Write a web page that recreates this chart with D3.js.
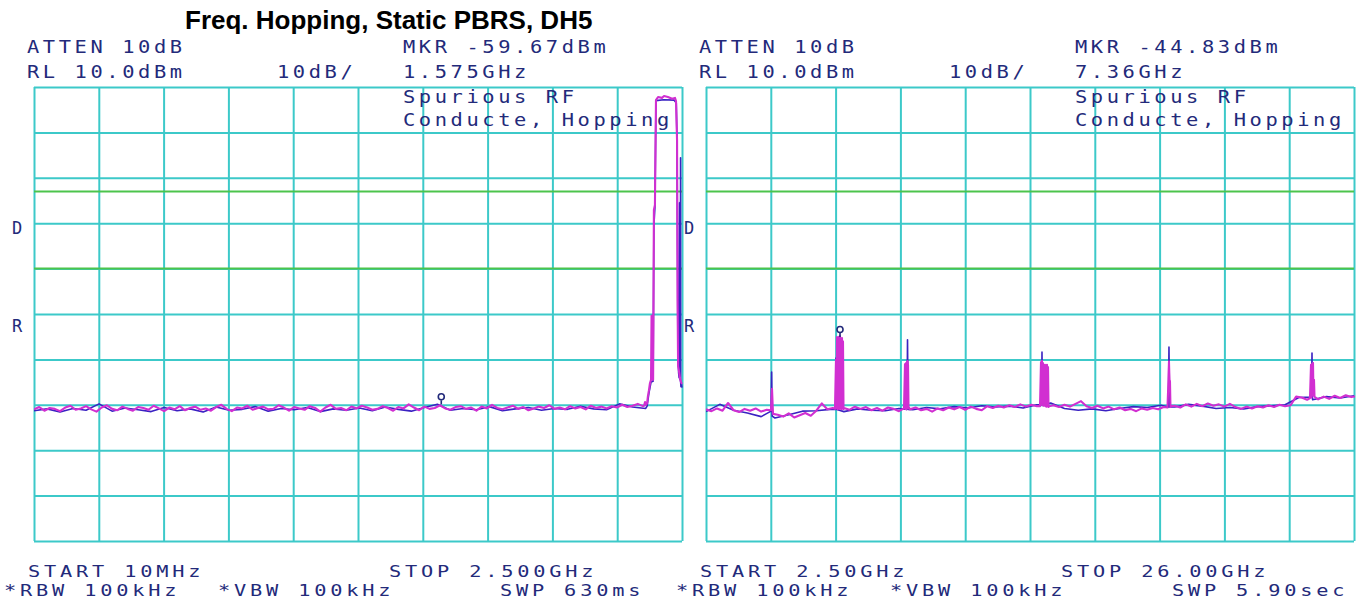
<!DOCTYPE html>
<html>
<head>
<meta charset="utf-8">
<script src="https://cdn.jsdelivr.net/npm/d3@7"></script>
<style>
  html, body { margin: 0; padding: 0; background: #ffffff; }
  svg { display: block; }
  .sa-text { font-family: "DejaVu Sans Mono", monospace; font-size: 17px; fill: #232a7a; letter-spacing: 3px; }
  .sa-foot { font-size: 16px; }
  .title { font-family: "Liberation Sans", Arial, sans-serif; font-weight: bold; font-size: 26px; fill: #000; }
</style>
</head>
<body>
<svg id="chart" width="1360" height="600"></svg>
<script>
// ---- Analyzer settings ----
const title = "Freq. Hopping, Static PBRS, DH5";
const refLevelDbm = 10;
const dbPerDiv = 10;
const displayLinesDbm = [-13, -30];

// ---- Sweep 1: 10 MHz – 2.5 GHz ----
const leftSpanGHz = [0.01, 2.5];
const leftFloorStart = 0.01, leftFloorStep = 0.02;
const leftFloorDbm = [
  -61.0,-60.5,-61.3,-60.7,-60.9,-61.4,-60.6,-60.2,-61.1,-60.8,
  -60.3,-61.0,-61.5,-60.6,-60.1,-60.9,-61.2,-60.4,-60.9,-61.3,
  -60.5,-60.7,-61.1,-60.2,-60.8,-61.4,-60.6,-61.0,-60.3,-61.2,
  -60.7,-60.4,-61.1,-60.8,-61.3,-60.5,-60.0,-60.9,-61.4,-60.6,
  -60.8,-60.2,-61.1,-60.7,-60.4,-61.0,-60.9,-60.1,-60.6,-61.3,
  -60.5,-60.8,-61.1,-60.3,-60.7,-61.5,-60.6,-60.0,-60.9,-60.7,
  -61.2,-60.4,-60.8,-60.2,-60.6,-61.1,-60.9,-60.3,-60.7,-61.3,
  -60.5,-60.8,-59.9,-60.6,-61.2,-60.4,-60.9,-60.7,-60.1,-60.8,
  -61.1,-60.5,-60.3,-60.9,-60.6,-61.3,-60.4,-60.8,-60.0,-60.7,
  -61.0,-60.6,-60.2,-60.9,-60.5,-61.2,-60.8,-60.4,-60.7,-60.1,
  -60.9,-60.6,-61.0,-60.3,-60.8,-60.5,-61.0,-60.2,-60.7,-60.4,
  -60.8,-60.3,-60.6,-60.0,-60.5,-60.2,-59.8,-60.3
];
// 2.4 GHz hopping band (max hold)
const leftBandFreq = [2.354,2.358,2.362,2.366,2.369,2.373,2.377,2.381,2.383,2.387,2.389,2.392,2.396,2.400,2.408,2.423,2.431,2.446,2.462,2.473,2.477,2.481,2.483,2.485,2.489,2.492,2.496,2.5];
const leftBandDbm  = [-60.2,-59.4,-60.0,-59.6,-58.1,-56.8,-55.2,-54.5,-40.4,-40.4,-54.5,-17.1,-16.0,7.1,7.8,7.6,8.0,7.8,7.4,7.6,6.9,-1.7,-36.9,-51.5,-52.8,-54.1,-55.0,-55.4];
// clear-write trace
const leftClearStart = 0.01, leftClearStep = 0.05;
const leftClearDbm = [
  -61.3,-60.9,-61.6,-60.8,-61.2,-59.8,-61.4,-60.7,-61.1,-61.5,
  -60.6,-61.3,-60.9,-61.6,-60.5,-61.2,-61.0,-60.4,-61.4,-60.8,
  -61.1,-60.6,-61.5,-60.9,-61.2,-60.7,-61.3,-60.5,-61.0,-61.4,
  -60.6,-59.9,-61.2,-60.8,-61.1,-60.4,-61.3,-60.9,-60.6,-61.2,
  -60.8,-61.0,-60.3,-60.9,-61.1,-59.8,-60.5,-60.8
];
const leftClearBandFreq = [2.366,2.373,2.381,2.389,2.392,2.396,2.400,2.430,2.470,2.478,2.481,2.484,2.487,2.489,2.4905,2.491,2.4915,2.492,2.4925,2.493,2.4935,2.494,2.4945,2.495,2.496,2.498,2.5];
const leftClearBandDbm  = [-60.3,-57.4,-55.0,-54.8,-20.5,-16.5,7.0,7.2,7.1,6.5,-2.5,-44.0,-53.0,-54.0,-15.5,-54.2,-15.8,-54.4,-15.4,-54.6,-15.6,-54.8,-5.6,-55.2,-56.0,-55.5,-56.2];
const leftMarker = { freqGHz: 1.575, dbm: -59.67 };

// ---- Sweep 2: 2.5 GHz – 26 GHz ----
const rightSpanGHz = [2.5, 26];
const rightFloorStart = 2.5, rightFloorStep = 0.2;
const rightFloorDbm = [
  -61.0,-61.4,-60.8,-61.3,-59.6,-61.2,-61.6,-60.9,-61.3,-60.8,
  -61.5,-61.1,-61.6,-62.2,-62.6,-61.9,-62.8,-62.3,-61.8,-62.4,
  -61.3,-59.7,-61.0,-60.7,-60.9,-60.6,-61.1,-60.4,-60.9,-60.5,
  -61.2,-60.7,-61.3,-60.6,-60.9,-61.4,-60.8,-61.0,-60.6,-61.2,
  -60.9,-61.5,-60.8,-61.2,-60.6,-61.0,-60.5,-61.1,-60.4,-60.9,
  -61.2,-60.3,-60.7,-60.2,-60.6,-60.1,-60.5,-59.9,-60.4,-60.0,
  -60.3,-60.2,-60.6,-60.1,-60.5,-60.0,-60.4,-59.8,-59.2,-60.3,
  -60.7,-60.2,-60.8,-60.4,-61.0,-60.6,-61.2,-60.9,-61.4,-60.8,
  -61.1,-60.7,-61.0,-60.5,-60.6,-60.2,-60.6,-59.9,-60.4,-59.8,
  -60.3,-59.7,-60.2,-59.9,-60.4,-59.8,-60.5,-60.9,-60.4,-60.8,
  -60.3,-60.6,-60.1,-60.5,-60.0,-60.3,-60.1,-58.2,-58.4,-58.9,
  -58.3,-58.8,-58.2,-58.7,-58.0,-58.5,-57.9,-58.3,-58.1
];
// harmonic responses (max hold)
const rightSpikes = [
  [[4.857,-61.2],[4.894,-56.5],[4.930,-62.0]],
  [[7.178,-60.9],[7.214,-50.1],[7.232,-60.7],[7.251,-45.1],[7.269,-61.0],[7.287,-45.3],[7.305,-60.8],[7.323,-45.0],[7.342,-60.9],[7.360,-44.83],[7.378,-60.5],[7.396,-45.5],[7.414,-61.0],[7.432,-45.3],[7.450,-60.7],[7.468,-46.0],[7.487,-60.9],[7.505,-60.7]],
  [[9.681,-60.8],[9.717,-51.0],[9.735,-60.9],[9.754,-50.8],[9.772,-61.0],[9.790,-50.6],[9.808,-50.4],[9.826,-51.2],[9.844,-60.8],[9.862,-60.6]],
  [[14.613,-60.3],[14.649,-50.6],[14.667,-60.0],[14.685,-50.3],[14.703,-60.1],[14.722,-50.8],[14.740,-60.2],[14.758,-60.0],[14.794,-51.2],[14.812,-60.3],[14.830,-51.5],[14.848,-60.4],[14.866,-51.2],[14.884,-60.2],[14.903,-51.7],[14.921,-60.5],[14.939,-60.3]],
  [[19.236,-60.6],[19.272,-54.5],[19.290,-50.5],[19.308,-54.5],[19.326,-54.8],[19.344,-60.5],[19.362,-60.3]],
  [[24.404,-58.5],[24.441,-51.2],[24.459,-58.4],[24.477,-51.0],[24.495,-51.0],[24.513,-50.8],[24.531,-58.0],[24.549,-54.5],[24.567,-58.2],[24.585,-58.3]]
];
const rightClearStart = 2.5, rightClearStep = 0.5;
const rightClearDbm = [
  -61.5,-59.9,-61.2,-61.8,-62.6,-62.9,-62.2,-61.4,-61.3,-61.0,
  -61.5,-60.9,-61.2,-61.3,-60.8,-61.1,-60.6,-60.9,-60.4,-60.7,
  -60.2,-60.5,-60.3,-60.7,-60.0,-59.6,-60.8,-61.2,-60.9,-61.3,
  -60.8,-60.4,-60.6,-60.1,-60.5,-59.9,-60.3,-60.8,-60.6,-60.9,
  -60.4,-60.2,-60.0,-58.4,-58.9,-58.2,-58.5,-58.0
];
const rightClearSpikes = [
  [[4.86,-61.4],[4.88,-52.8],[4.90,-62.5]],
  [[7.205,-61.0],[7.214,-49.7],[7.225,-61.0]],
  [[9.79,-61.0],[9.808,-45.7],[9.83,-61.0]],
  [[14.67,-60.0],[14.685,-48.4],[14.70,-60.0]],
  [[19.27,-60.5],[19.29,-47.3],[19.31,-60.5]],
  [[24.46,-58.3],[24.477,-48.6],[24.49,-58.3]]
];
const rightMarker = { freqGHz: 7.36, dbm: -44.83 };

// ---- Screen annotations ----
const leftHeader  = ["ATTEN 10dB", "MKR -59.67dBm", "RL 10.0dBm", "10dB/", "1.575GHz"];
const rightHeader = ["ATTEN 10dB", "MKR -44.83dBm", "RL 10.0dBm", "10dB/", "7.36GHz"];
const titleLines  = ["Spurious RF", "Conducte, Hopping"];
const leftFooter  = ["START 10MHz", "STOP 2.500GHz", "*RBW 100kHz", "*VBW 100kHz", "SWP 630ms"];
const rightFooter = ["START 2.50GHz", "STOP 26.00GHz", "*RBW 100kHz", "*VBW 100kHz", "SWP 5.90sec"];
const sideMarks   = ["D", "R"];

// ---- Drawing ----
const svg = d3.select("#chart");
const TOP = 87, BOTTOM = 541, WIDTH = 648;
const GRID = "#3cc9c9", GREEN = "#4cc44c", MAGENTA = "#d12fd1", BLUE = "#3a22c2", INK = "#232a7a";

svg.append("text").attr("class", "title").attr("x", 185).attr("y", 29).text(title);

function series(start, step, values) {
  return values.map((v, i) => [start + i * step, v]);
}
function merge(base, segments) {
  let pts = base.slice();
  segments.forEach(seg => {
    const lo = seg[0][0], hi = seg[seg.length - 1][0];
    pts = pts.filter(p => p[0] < lo || p[0] > hi).concat(seg);
  });
  return pts.sort((a, b) => a[0] - b[0]);
}
const zip = (fs, vs) => fs.map((f, i) => [f, vs[i]]);

function panel(id, left, span, maxHold, clearWrite, marker, header, footer) {
  const x = d3.scaleLinear().domain(span).range([left, left + WIDTH]);
  const y = d3.scaleLinear().domain([refLevelDbm - 10 * dbPerDiv, refLevelDbm]).range([BOTTOM, TOP]);
  const g = svg.append("g");

  const xDivs = d3.range(11).map(i => span[0] + i * (span[1] - span[0]) / 10);
  const yDivs = d3.range(11).map(i => refLevelDbm - i * dbPerDiv);

  const gx = g.append("g").attr("transform", `translate(0,${BOTTOM})`)
    .call(d3.axisBottom(x).tickValues(xDivs).tickSize(-(BOTTOM - TOP)).tickFormat(""));
  const gy = g.append("g").attr("transform", `translate(${left},0)`)
    .call(d3.axisLeft(y).tickValues(yDivs).tickSize(-WIDTH).tickFormat(""));
  [gx, gy].forEach(a => {
    a.select(".domain").remove();
    a.selectAll(".tick line").attr("stroke", GRID).attr("stroke-width", 2);
  });

  g.selectAll("line.dl").data(displayLinesDbm).join("line").attr("class", "dl")
    .attr("x1", left).attr("x2", left + WIDTH)
    .attr("y1", d => y(d)).attr("y2", d => y(d))
    .attr("stroke", GREEN).attr("stroke-width", 2);

  g.append("clipPath").attr("id", id).append("rect")
    .attr("x", left).attr("y", TOP - 2).attr("width", WIDTH + 1).attr("height", BOTTOM - TOP + 4);

  const line = d3.line().x(d => x(d[0])).y(d => y(d[1]));
  const traces = g.append("g").attr("clip-path", `url(#${id})`);
  traces.append("path").datum(clearWrite).attr("d", line)
    .attr("fill", "none").attr("stroke", BLUE).attr("stroke-width", 1.6).attr("stroke-linejoin", "round");
  traces.append("path").datum(maxHold).attr("d", line)
    .attr("fill", "none").attr("stroke", MAGENTA).attr("stroke-width", 2.1).attr("stroke-linejoin", "round");

  // marker: small circle on a short stem above the trace point
  const mx = x(marker.freqGHz), my = y(marker.dbm);
  g.append("line").attr("x1", mx).attr("x2", mx).attr("y1", my - 3).attr("y2", my + 1)
    .attr("stroke", INK).attr("stroke-width", 1.6);
  g.append("circle").attr("cx", mx).attr("cy", my - 6.5).attr("r", 3)
    .attr("fill", "#fff").attr("stroke", INK).attr("stroke-width", 1.6);

  // annotations, laid out in character cells
  const off = left - 34;
  const put = (txt, tx, ty, foot) => svg.append("text").attr("class", foot ? "sa-text sa-foot" : "sa-text")
    .attr("transform", `translate(${tx + off},${ty}) scale(${foot ? 1.27 : 1.2},1)`).text(txt);
  put(header[0], 27, 53);
  put(header[1], 403, 53);
  put(header[2], 27, 78);
  put(header[3], 277, 78);
  put(header[4], 403, 78);
  put(titleLines[0], 403, 103);
  put(titleLines[1], 403, 126);
  put(footer[0], 28, 577, true);
  put(footer[1], 389, 577, true);
  put(footer[2], 4, 596, true);
  put(footer[3], 218, 596, true);
  put(footer[4], 500, 596, true);
  svg.append("text").attr("class", "sa-text").attr("x", left - 22).attr("y", 234).text(sideMarks[0]);
  svg.append("text").attr("class", "sa-text").attr("x", left - 22).attr("y", 332).text(sideMarks[1]);
}

const leftMax = merge(series(leftFloorStart, leftFloorStep, leftFloorDbm), [zip(leftBandFreq, leftBandDbm)]);
const leftClear = merge(series(leftClearStart, leftClearStep, leftClearDbm), [zip(leftClearBandFreq, leftClearBandDbm)]);
const rightMax = merge(series(rightFloorStart, rightFloorStep, rightFloorDbm), rightSpikes);
const rightClear = merge(series(rightClearStart, rightClearStep, rightClearDbm), rightClearSpikes);

panel("clipL", 34, leftSpanGHz, leftMax, leftClear, leftMarker, leftHeader, leftFooter);
panel("clipR", 706, rightSpanGHz, rightMax, rightClear, rightMarker, rightHeader, rightFooter);
</script>
</body>
</html>
